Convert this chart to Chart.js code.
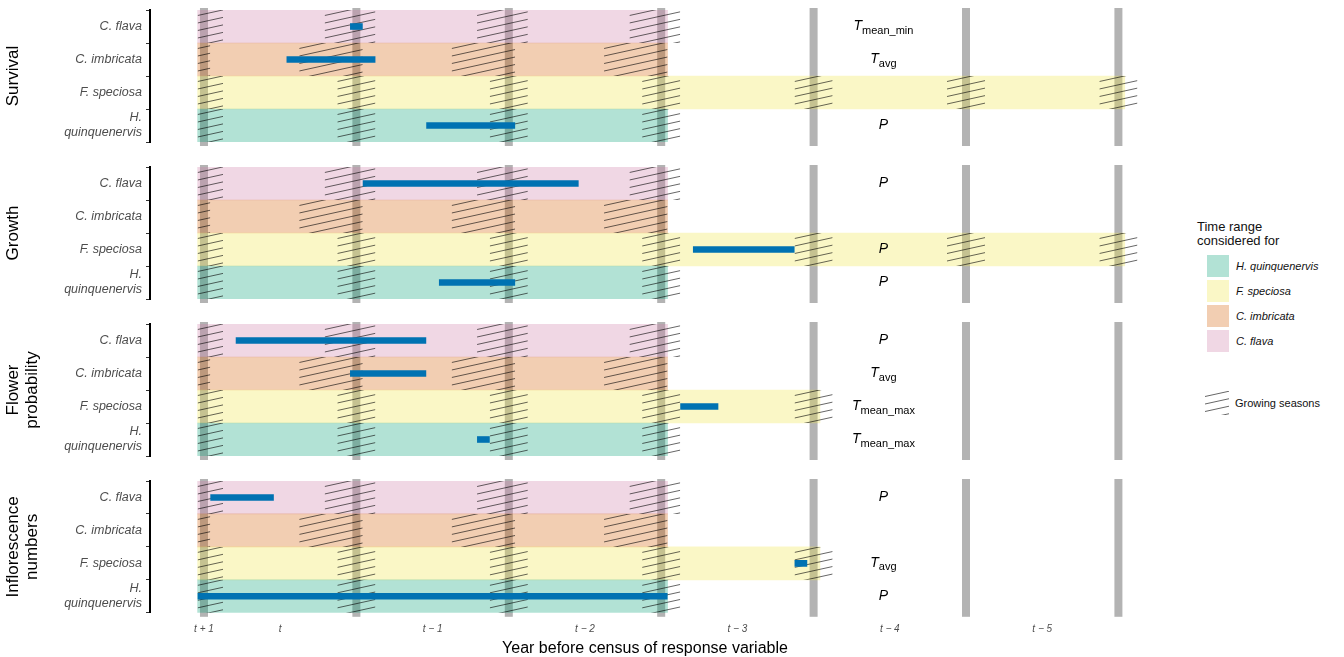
<!DOCTYPE html>
<html>
<head>
<meta charset="UTF-8" />
<script src="https://cdn.jsdelivr.net/npm/chart.js"></script>
<style>
  body { margin:0; width:1344px; height:657px; background:#fff; font-family:"Liberation Sans", Arial, sans-serif; position:relative; overflow:hidden; }
  .panel { position:absolute; left:0; width:1150px; }
  #legend { position:absolute; left:1197px; top:220px; font-size:13px; color:#111; }
  .sw { display:flex; align-items:center; height:25px; }
  .sw span.box { width:22px; height:22px; margin-left:10px; margin-right:7px; }
  .sw i { font-size:11px; }
</style>
</head>
<body>
<div class="panel" style="top:6px;height:140px"><canvas id="c0"></canvas></div>
<div class="panel" style="top:163px;height:140px"><canvas id="c1"></canvas></div>
<div class="panel" style="top:320px;height:140px"><canvas id="c2"></canvas></div>
<div class="panel" style="top:477px;height:185px"><canvas id="c3"></canvas></div>
<div id="legend">
  <div style="line-height:14px;margin-bottom:5px">Time range<br>considered for</div>
  <div class="sw"><span class="box" style="background:rgba(0,158,115,0.3)"></span><i>H. quinquenervis</i></div>
  <div class="sw"><span class="box" style="background:rgba(240,228,66,0.3)"></span><i>F. speciosa</i></div>
  <div class="sw"><span class="box" style="background:rgba(213,94,0,0.3)"></span><i>C. imbricata</i></div>
  <div class="sw"><span class="box" style="background:rgba(204,121,167,0.3)"></span><i>C. flava</i></div>
  <div style="display:flex;align-items:center;margin-top:38px"><canvas id="hl" width="24" height="24" style="margin-left:8px;margin-right:6px"></canvas><span style="font-size:11px">Growing seasons</span></div>
</div>
<script>
// months before census; 0 = census (t + 1), one grey line per year
const species = ['C. flava', 'C. imbricata', 'F. speciosa', ['H.', 'quinquenervis']];
const bandColors = ['rgba(204,121,167,0.3)', 'rgba(213,94,0,0.3)', 'rgba(240,228,66,0.3)', 'rgba(0,158,115,0.3)'];
const panelTitles = ['Survival', 'Growth', ['Flower', 'probability'], ['Inflorescence', 'numbers']];
const yearLines = [0, 12, 24, 36, 48, 60, 72];
const xTickVals = [0, 6, 18, 30, 42, 54, 66];
const xTickLabels = ['t + 1', 't', 't \u2212 1', 't \u2212 2', 't \u2212 3', 't \u2212 4', 't \u2212 5'];
// growing season around each year line: [months before line, months after]
const seasonSpan = [[2.5, 1.5], [4.5, 0.5], [1.5, 1.5], [1.5, 1.5]];

// time range considered, per panel, per species (flava, imbricata, speciosa, quinquenervis)
const bandRanges = [
  [[-0.5, 36.5], [-0.5, 36.5], [-0.5, 72.5], [-0.5, 36.5]],
  [[-0.5, 36.5], [-0.5, 36.5], [-0.5, 72.5], [-0.5, 36.5]],
  [[-0.5, 36.5], [-0.5, 36.5], [-0.5, 48.5], [-0.5, 36.5]],
  [[-0.5, 36.5], [-0.5, 36.5], [-0.5, 48.5], [-0.5, 36.5]]
];
// selected windows
const windows = [
  [[11.5, 12.5], [6.5, 13.5], null, [17.5, 24.5]],
  [[12.5, 29.5], null, [38.5, 46.5], [18.5, 24.5]],
  [[2.5, 17.5], [11.5, 17.5], [37.5, 40.5], [21.5, 22.5]],
  [[0.5, 5.5], null, [46.5, 47.5], [-0.5, 36.5]]
];
// climate variable labels: [main, subscript]
const varLabels = [
  [['T', 'mean_min'], ['T', 'avg'], null, ['P', '']],
  [['P', ''], null, ['P', ''], ['P', '']],
  [['P', ''], ['T', 'avg'], ['T', 'mean_max'], ['T', 'mean_max']],
  [['P', ''], null, ['T', 'avg'], ['P', '']]
];
const labelPos = 53.5;

function hatch(ctx, x0, x1, y0, y1) {
  ctx.save();
  ctx.beginPath(); ctx.rect(x0, y0, x1 - x0, y1 - y0); ctx.clip();
  ctx.strokeStyle = 'rgba(0,0,0,0.8)'; ctx.lineWidth = 0.75;
  const slope = 0.22, w = x1 - x0;
  ctx.beginPath();
  for (let y = y0 - 2; y < y1 + w * slope + 8; y += 7.5) {
    ctx.moveTo(x0, y); ctx.lineTo(x1, y - w * slope);
  }
  ctx.stroke();
  ctx.restore();
}

function makePanel(p) {
  const last = p === 3;
  const decor = {
    id: 'decor',
    beforeDatasetsDraw(chart) {
      const {ctx, chartArea: a, scales: {x}} = chart;
      ctx.save();
      ctx.fillStyle = '#b3b3b3';
      yearLines.forEach(m => {
        const px = x.getPixelForValue(m);
        ctx.fillRect(px - 4, a.top - 2, 8, a.bottom - a.top + 6);
      });
      ctx.restore();
    },
    afterDatasetDraw(chart, args) {
      if (args.index !== 0) return;
      const {ctx, scales: {x, y}} = chart;
      const rowH = y.getPixelForValue(1) - y.getPixelForValue(0);
      species.forEach((s, i) => {
        const [b0, b1] = bandRanges[p][i];
        const yc = y.getPixelForValue(i);
        yearLines.forEach(m => {
          if (m > b1) return;
          const s0 = Math.max(m - seasonSpan[i][0], b0), s1 = m + seasonSpan[i][1];
          hatch(ctx, x.getPixelForValue(s0), x.getPixelForValue(s1), yc - rowH / 2, yc + rowH / 2);
        });
      });
    },
    afterDatasetsDraw(chart) {
      const {ctx, scales: {x, y}} = chart;
      ctx.save();
      ctx.fillStyle = '#000';
      ctx.textBaseline = 'middle';
      varLabels[p].forEach((v, i) => {
        if (!v) return;
        const yc = y.getPixelForValue(i);
        ctx.font = 'italic 14px "Liberation Sans", Arial';
        const w1 = ctx.measureText(v[0]).width;
        ctx.font = '11px "Liberation Sans", Arial';
        const w2 = ctx.measureText(v[1]).width;
        let px = x.getPixelForValue(labelPos) - (w1 + w2) / 2;
        ctx.font = 'italic 14px "Liberation Sans", Arial';
        ctx.fillText(v[0], px, yc);
        ctx.font = '11px "Liberation Sans", Arial';
        ctx.fillText(v[1], px + w1, yc + 4);
      });
      ctx.restore();
    }
  };
  new Chart(document.getElementById('c' + p), {
    type: 'bar',
    data: {
      labels: species,
      datasets: [
        { data: bandRanges[p], backgroundColor: bandColors, barPercentage: 1, categoryPercentage: 1, grouped: false, order: 2 },
        { data: windows[p], backgroundColor: '#0072B2', barPercentage: 0.2, categoryPercentage: 1, grouped: false, order: 1 }
      ]
    },
    options: {
      indexAxis: 'y',
      animation: false,
      responsive: true,
      maintainAspectRatio: false,
      layout: { autoPadding: false, padding: { top: 4, bottom: last ? 0 : 4, right: 10, left: 0 } },
      plugins: { legend: { display: false }, tooltip: { enabled: false } },
      scales: {
        x: {
          type: 'linear', min: -4.25, max: 73.7,
          display: last,
          afterBuildTicks: s => { s.ticks = xTickVals.map(v => ({value: v})); },
          ticks: { callback: (v, i) => xTickLabels[i], color: '#4d4d4d', font: { size: 10, style: 'italic', family: '"Liberation Sans", Arial' }, maxRotation: 0, autoSkip: false, padding: 2 },
          grid: { display: false },
          border: { display: false },
          title: { display: true, text: 'Year before census of response variable', color: '#000', font: { size: 16, family: '"Liberation Sans", Arial' }, padding: { top: 2 } }
        },
        y: {
          afterFit: s => { s.width = 150; s.paddingTop = 0; s.paddingBottom = 0; },
          grid: { drawOnChartArea: false, color: '#333', tickLength: 4 },
          border: { color: '#000', width: 2 },
          ticks: { autoSkip: false, color: '#4d4d4d', font: { size: 12.5, style: 'italic', family: '"Liberation Sans", Arial' }, padding: 4 },
          title: { display: true, text: panelTitles[p], color: '#000', font: { size: 17, family: '"Liberation Sans", Arial', lineHeight: 1.1 }, padding: { bottom: 0 } }
        }
      }
    },
    plugins: [decor]
  });
}
[0, 1, 2, 3].forEach(makePanel);

const hc = document.getElementById('hl').getContext('2d');
hatch(hc, 0, 24, 0, 24);
</script>
</body>
</html>
